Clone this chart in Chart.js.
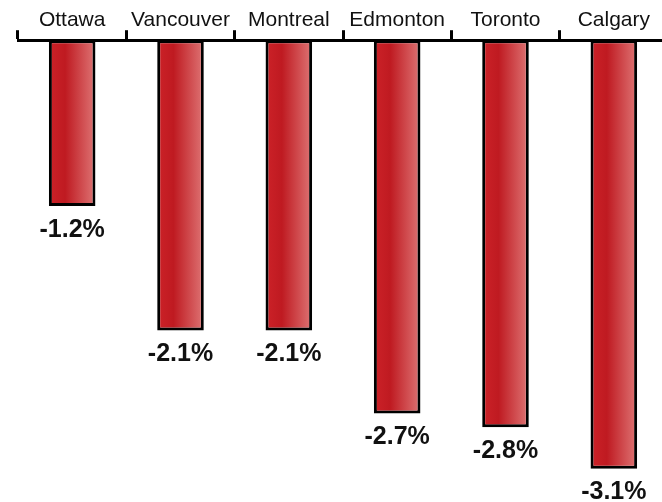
<!DOCTYPE html>
<html>
<head>
<meta charset="utf-8">
<script src="https://cdn.jsdelivr.net/npm/chart.js@4/dist/chart.umd.min.js"></script>
<style>
  html, body { margin: 0; padding: 0; background: #fff; overflow: hidden; }
  #wrap { width: 662px; height: 502px; overflow: hidden; }
</style>
</head>
<body>
<div id="wrap">
  <canvas id="chart" width="668" height="502"></canvas>
</div>
<script>
const cities = ['Ottawa', 'Vancouver', 'Montreal', 'Edmonton', 'Toronto', 'Calgary'];
const changes = [-1.2, -2.1, -2.1, -2.7, -2.8, -3.1];

const BAR_PCT = 0.43;

// horizontal shading on each bar, dark red to pale red
function barFill(c) {
    const chart = c.chart;
    const xs = chart.scales.x;
    if (!chart.chartArea || !xs) return '#c8252a';
    const cx = xs.getPixelForValue(c.dataIndex);
    const w = (xs.width / cities.length) * BAR_PCT;
    const g = chart.ctx.createLinearGradient(cx - w / 2, 0, cx + w / 2, 0);
    g.addColorStop(0, '#cc2228');
    g.addColorStop(0.35, '#bf1a21');
    g.addColorStop(1, '#de7474');
    return g;
}

const valueLabels = {
    id: 'valueLabels',
    afterDatasetsDraw(chart) {
        const ctx = chart.ctx;
        ctx.save();
        ctx.font = 'bold 25px "Liberation Sans", Arial, sans-serif';
        ctx.fillStyle = '#111';
        ctx.textAlign = 'center';
        ctx.textBaseline = 'top';
        chart.getDatasetMeta(0).data.forEach((bar, i) => {
            const p = bar.getProps(['x', 'y'], true);
            ctx.fillText(changes[i].toFixed(1) + '%', p.x, p.y + 11);
        });
        ctx.restore();
    }
};

new Chart(document.getElementById('chart'), {
    type: 'bar',
    data: {
        labels: cities,
        datasets: [{
            data: changes,
            backgroundColor: barFill,
            borderColor: '#000',
            borderWidth: 3,
            borderSkipped: false,
            categoryPercentage: 1,
            barPercentage: BAR_PCT
        }]
    },
    options: {
        responsive: false,
        animation: false,
        events: [],
        layout: { padding: { left: 18, right: 0, top: 11, bottom: 0 } },
        plugins: { legend: { display: false }, tooltip: { enabled: false } },
        scales: {
            x: {
                position: 'top',
                offset: true,
                grid: {
                    offset: true,
                    drawOnChartArea: false,
                    drawTicks: true,
                    tickLength: 10,
                    color: '#000',
                    lineWidth: 3
                },
                border: { display: true, color: '#000', width: 3 },
                ticks: {
                    color: '#111',
                    padding: -3,
                    font: { family: '"Liberation Sans", Arial, sans-serif', size: 21 }
                }
            },
            y: {
                display: false,
                min: -3.34,
                max: 0
            }
        }
    },
    plugins: [valueLabels]
});
</script>
</body>
</html>
